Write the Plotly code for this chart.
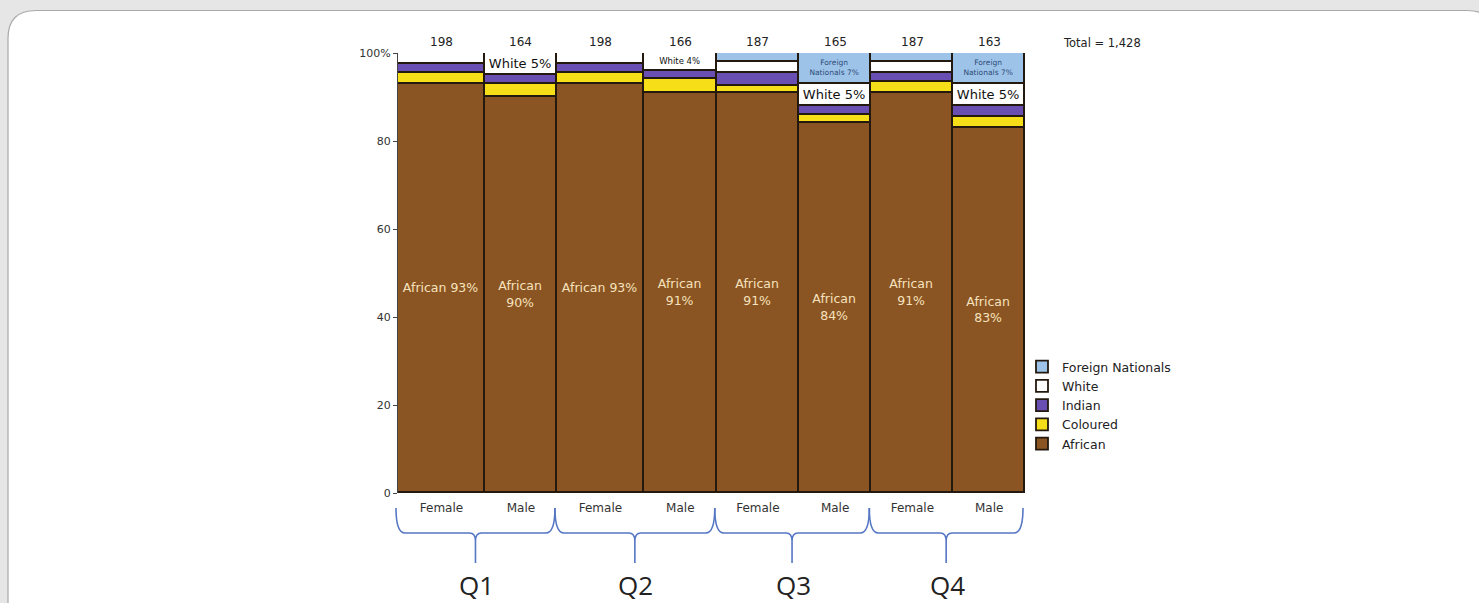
import numpy as np
import plotly.graph_objects as go

# Ethnic composition by quarter and sex (percent of respondents)
quarters = ["Q1", "Q2", "Q3", "Q4"]
sexes = ["Female", "Male", "Female", "Male", "Female", "Male", "Female", "Male"]
counts = [198, 164, 198, 166, 187, 165, 187, 163]
african = [93, 90, 93, 91, 91, 84, 91, 83]
coloured = [2.5, 3, 2.5, 3, 1.5, 2, 2.5, 2.5]
indian = [2, 2, 2, 2, 3, 2, 2, 2.5]
white = [2.5, 5, 2.5, 4, 2.5, 5, 2.5, 5]
foreign = [0, 0, 0, 0, 2, 7, 2, 7]
# which bars carry a label for the smaller groups
white_labelled = [False, True, False, True, False, True, False, True]
foreign_labelled = [False, False, False, False, False, True, False, True]
african_one_line = [True, False, True, False, False, False, False, False]

counts_arr = np.array(counts, dtype=float)
total = counts_arr.sum()
right_edges = np.cumsum(counts_arr)
left_edges = right_edges - counts_arr
centers = left_edges + counts_arr / 2

# figure geometry (pixels)
W, H = 1479, 603
ML, MR, MT, MB = 398, 454, 53, 110
PW, PH = W - ML - MR, H - MT - MB


def px_x(px):
    return (px - ML) / PW


def px_y(py):
    return (H - MB - py) / PH


def data_px(xv):
    return ML + xv / total * PW


colors = {
    "African": "#8a5522",
    "Coloured": "#f6df18",
    "Indian": "#6a4fb2",
    "White": "#ffffff",
    "Foreign Nationals": "#9dc4e8",
}
edge = dict(color="#24190e", width=1.8)

african_text = [
    f"African{' ' if one else '<br>'}{v}%" for v, one in zip(african, african_one_line)
]
white_text = [f"White {v:g}%" if lab else "" for v, lab in zip(white, white_labelled)]
white_sizes = [13 if v >= 5 else 8.5 for v in white]
foreign_text = [
    f"Foreign<br>Nationals {v:g}%" if lab else "" for v, lab in zip(foreign, foreign_labelled)
]

fig = go.Figure()
series = [
    ("African", african, african_text, dict(size=12.5, color="#f6e2bd", family="DejaVu Sans")),
    ("Coloured", coloured, None, None),
    ("Indian", indian, None, None),
    ("White", white, white_text, dict(size=white_sizes, color="#111111", family="DejaVu Sans")),
    ("Foreign Nationals", foreign, foreign_text, dict(size=7.5, color="#2d4a78", family="DejaVu Sans")),
]
for name, vals, txt, tfont in series:
    kw = {}
    if txt is not None:
        kw = dict(
            text=txt,
            textposition="inside",
            insidetextanchor="middle",
            textangle=0,
            constraintext="none",
            insidetextfont=tfont,
            texttemplate="%{text}",
        )
    fig.add_trace(
        go.Bar(
            name=name,
            x=centers,
            y=vals,
            width=counts_arr,
            marker=dict(color=colors[name], line=edge),
            hoverinfo="skip",
            **kw,
        )
    )

# sample sizes above each bar
for c, n in zip(centers, counts):
    fig.add_annotation(
        x=c, y=100, xref="x", yref="y", text=str(n), showarrow=False,
        yanchor="bottom", yshift=2, font=dict(size=12, color="#222", family="DejaVu Sans"),
    )

fig.add_annotation(
    x=px_x(1102), y=px_y(43), xref="paper", yref="paper", xanchor="center", yanchor="middle",
    text=f"Total = {int(total):,}", showarrow=False,
    font=dict(size=11.5, color="#222", family="DejaVu Sans"),
)

shapes = []
# rounded white card behind the chart
fx0, fy0, fx1, fy1, r = 8, 10.5, 1495, 720, 28
card = (
    f"M {px_x(fx0)},{px_y(fy1)} L {px_x(fx0)},{px_y(fy0 + r)} "
    f"Q {px_x(fx0)},{px_y(fy0)} {px_x(fx0 + r)},{px_y(fy0)} "
    f"L {px_x(fx1 - r)},{px_y(fy0)} "
    f"Q {px_x(fx1)},{px_y(fy0)} {px_x(fx1)},{px_y(fy0 + r)} "
    f"L {px_x(fx1)},{px_y(fy1)} Z"
)
shapes.append(dict(type="path", path=card, xref="paper", yref="paper",
                   fillcolor="#ffffff", line=dict(color="#a9a9a9", width=1.2), layer="below"))

# curly braces grouping each quarter's pair of bars
y_top, y_mid, y_tip = 508, 533, 563
for q in range(len(quarters)):
    xl = data_px(left_edges[2 * q]) - 2
    xr = data_px(right_edges[2 * q + 1]) - 2
    xm = (xl + xr) / 2
    pts = [
        f"M {px_x(xl)},{px_y(y_top)}",
        f"Q {px_x(xl)},{px_y(y_mid)} {px_x(xl + 9)},{px_y(y_mid)}",
        f"L {px_x(xm - 6)},{px_y(y_mid)}",
        f"Q {px_x(xm)},{px_y(y_mid)} {px_x(xm)},{px_y(y_mid + 8)}",
        f"L {px_x(xm)},{px_y(y_tip)}",
        f"M {px_x(xm)},{px_y(y_mid + 8)}",
        f"Q {px_x(xm)},{px_y(y_mid)} {px_x(xm + 6)},{px_y(y_mid)}",
        f"L {px_x(xr - 9)},{px_y(y_mid)}",
        f"Q {px_x(xr)},{px_y(y_mid)} {px_x(xr)},{px_y(y_top)}",
    ]
    shapes.append(dict(type="path", path=" ".join(pts), xref="paper", yref="paper",
                       line=dict(color="#5577c4", width=1.6)))
    fig.add_annotation(
        x=px_x(xm + 1), y=px_y(585), xref="paper", yref="paper", text=quarters[q],
        xanchor="center", yanchor="middle",
        showarrow=False, font=dict(size=26, color="#222", family="Open Sans"),
    )

fig.update_layout(
    width=W, height=H,
    margin=dict(l=ML, r=MR, t=MT, b=MB, pad=0),
    barmode="stack",
    bargap=0,
    paper_bgcolor="#e6e6e6",
    plot_bgcolor="#ffffff",
    shapes=shapes,
    font=dict(family="DejaVu Sans", color="#333"),
    legend=dict(
        x=px_x(1022), y=px_y(352), xanchor="left", yanchor="top",
        traceorder="reversed", bgcolor="rgba(0,0,0,0)",
        font=dict(size=12.5, color="#222", family="DejaVu Sans"),
        itemwidth=30, tracegroupgap=0,
    ),
    xaxis=dict(
        range=[0, total], tickvals=centers, ticktext=sexes, showgrid=False,
        zeroline=False, showline=False, ticks="", ticklabelstandoff=6,
        tickfont=dict(size=12, color="#333", family="DejaVu Sans"),
    ),
    yaxis=dict(
        range=[0, 100], tickvals=[0, 20, 40, 60, 80, 100],
        ticktext=["0", "20", "40", "60", "80", "100%"],
        showgrid=False, zeroline=False, showline=True, linecolor="#444", linewidth=1,
        ticks="outside", ticklen=4, tickcolor="#444",
        tickfont=dict(size=11, color="#333", family="DejaVu Sans"),
    ),
    showlegend=True,
)

fig.write_html("out.html")
